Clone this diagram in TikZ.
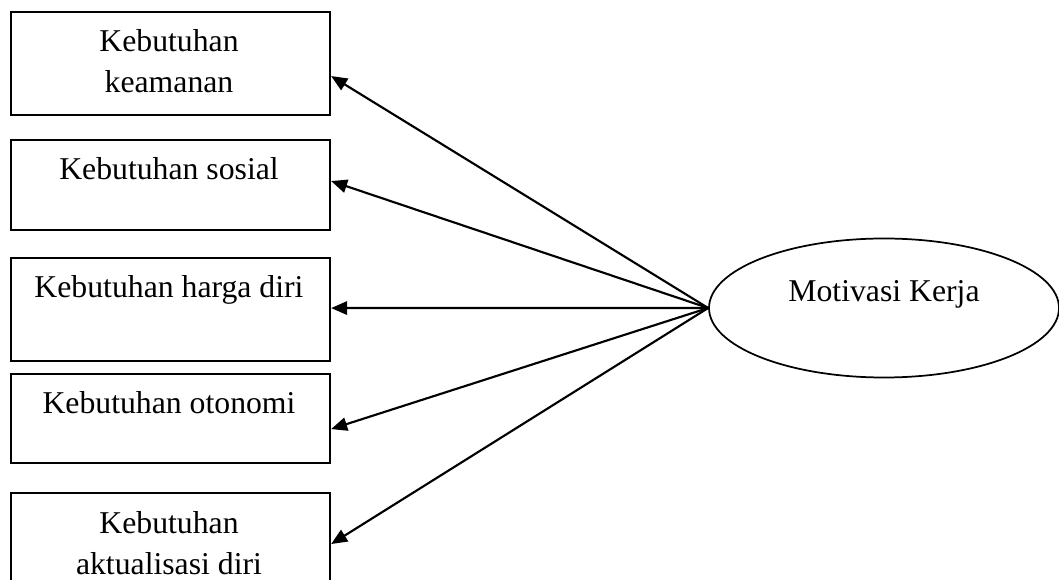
\documentclass[tikz,border=0pt]{standalone}
\usepackage{fontspec}
\setmainfont{Liberation Serif}
\usetikzlibrary{arrows.meta,shapes.geometric}
\begin{document}
\begin{tikzpicture}[x=0.75pt,y=-0.75pt,
  box/.style={draw,line width=1.6pt,rectangle,minimum width=319*0.75pt,inner sep=0pt,anchor=north west},
  lbl/.style={anchor=base,font=\fontsize{23.8pt}{31pt}\selectfont,inner sep=0pt},
  arr/.style={line width=1.6pt,-{Triangle[length=12pt,width=10pt]}}]
\useasboundingbox (0,0) rectangle (1059,580);
\node[box,minimum height=103*0.75pt] (b1) at (10,11) {};
\node[box,minimum height=90*0.75pt] (b2) at (10,139) {};
\node[box,minimum height=103*0.75pt] (b3) at (10,257) {};
\node[box,minimum height=89*0.75pt] (b4) at (10,373) {};
\node[box,minimum height=100*0.75pt] (b5) at (10,492) {};
\node[lbl] (t1a) at (169,52) {Kebutuhan};
\node[lbl] (t1b) at (169,93) {keamanan};
\node[lbl] (t2) at (169,180) {Kebutuhan sosial};
\node[lbl] (t3) at (169,298) {Kebutuhan harga diri};
\node[lbl] (t4) at (169,413) {Kebutuhan otonomi};
\node[lbl] (t5a) at (169,533) {Kebutuhan};
\node[lbl] (t5b) at (169,574) {aktualisasi diri};
\node[draw,line width=1.3pt,ellipse,minimum width=350*0.75pt,minimum height=139*0.75pt,inner sep=0pt] (m) at (884,308) {};
\node[lbl] (mt) at (884,302) {Motivasi Kerja};
\draw[arr] (m.west) -- ([yshift=-12.5*0.75pt]b1.east);
\draw[arr] (m.west) -- ([yshift=4*0.75pt]b2.east);
\draw[arr] (m.west) -- ([yshift=1.5*0.75pt]b3.east);
\draw[arr] (m.west) -- ([yshift=-10.5*0.75pt]b4.east);
\draw[arr] (m.west) -- ([yshift=-1*0.75pt]b5.east);
\end{tikzpicture}
\end{document}
